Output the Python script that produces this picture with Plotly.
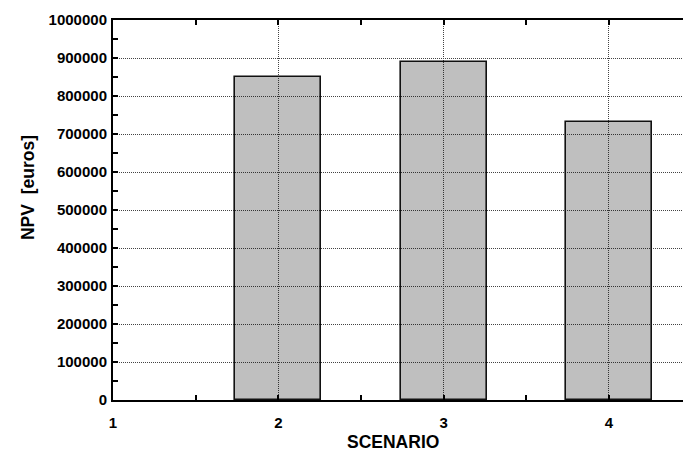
import plotly.graph_objects as go

scenarios = [2, 3, 4]
npv_values = [849000, 890000, 732500]
x_ticks = [1, 2, 3, 4]
y_ticks = [0, 100000, 200000, 300000, 400000, 500000, 600000, 700000, 800000, 900000, 1000000]

FONT = "Liberation Sans, Arial, Helvetica, sans-serif"

fig = go.Figure()
fig.add_trace(go.Bar(
    x=scenarios, y=npv_values, width=0.52,
    marker=dict(color="rgba(0,0,0,0.25)", line=dict(color="#111111", width=1.6)),
    showlegend=False,
))

fig.update_layout(
    width=683, height=452,
    margin=dict(l=113, r=0, t=20, b=52),
    paper_bgcolor="white", plot_bgcolor="white",
    font=dict(family=FONT, color="black"),
    bargap=0,
)

fig.update_xaxes(
    range=[1, 4.448], tickvals=x_ticks, ticktext=[str(v) for v in x_ticks],
    showline=True, linecolor="black", linewidth=2, mirror="ticks",
    ticks="inside", ticklen=0, tickcolor="black",
    minor=dict(ticks="inside", ticklen=5, tickwidth=1.5, tickcolor="black", dtick=0.5, tick0=1, showgrid=False),
    showgrid=True, gridcolor="#444444", griddash="1px,1px", gridwidth=1,
    tickfont=dict(size=15, weight="bold", family=FONT), ticklabelstandoff=8,
    zeroline=False,
)
fig.update_yaxes(
    range=[0, 1000000], tickvals=y_ticks, ticktext=[str(v) for v in y_ticks],
    showline=True, linecolor="black", linewidth=2, mirror=False,
    ticks="inside", ticklen=0, tickcolor="black",
    minor=dict(ticks="inside", ticklen=5, tickwidth=1.5, tickcolor="black", dtick=50000, tick0=0, showgrid=False),
    showgrid=True, gridcolor="#444444", griddash="1px,1px", gridwidth=1,
    tickfont=dict(size=15, weight="bold", family=FONT), ticklabelstandoff=1,
    zeroline=False,
)

fig.add_annotation(text="SCENARIO", xref="paper", yref="paper", x=0.491, y=-0.1105,
                   xanchor="center", yanchor="middle", showarrow=False,
                   font=dict(size=17.5, weight="bold", family=FONT))
fig.add_annotation(text="NPV\u00a0\u00a0[euros]", xref="paper", yref="paper", x=-0.149, y=0.558,
                   xanchor="center", yanchor="middle", showarrow=False, textangle=-90,
                   font=dict(size=17.5, weight="bold", family=FONT))

fig.write_html("out.html", config={"displayModeBar": False},
               post_script="document.body.style.margin='0';document.body.style.overflow='hidden';")
